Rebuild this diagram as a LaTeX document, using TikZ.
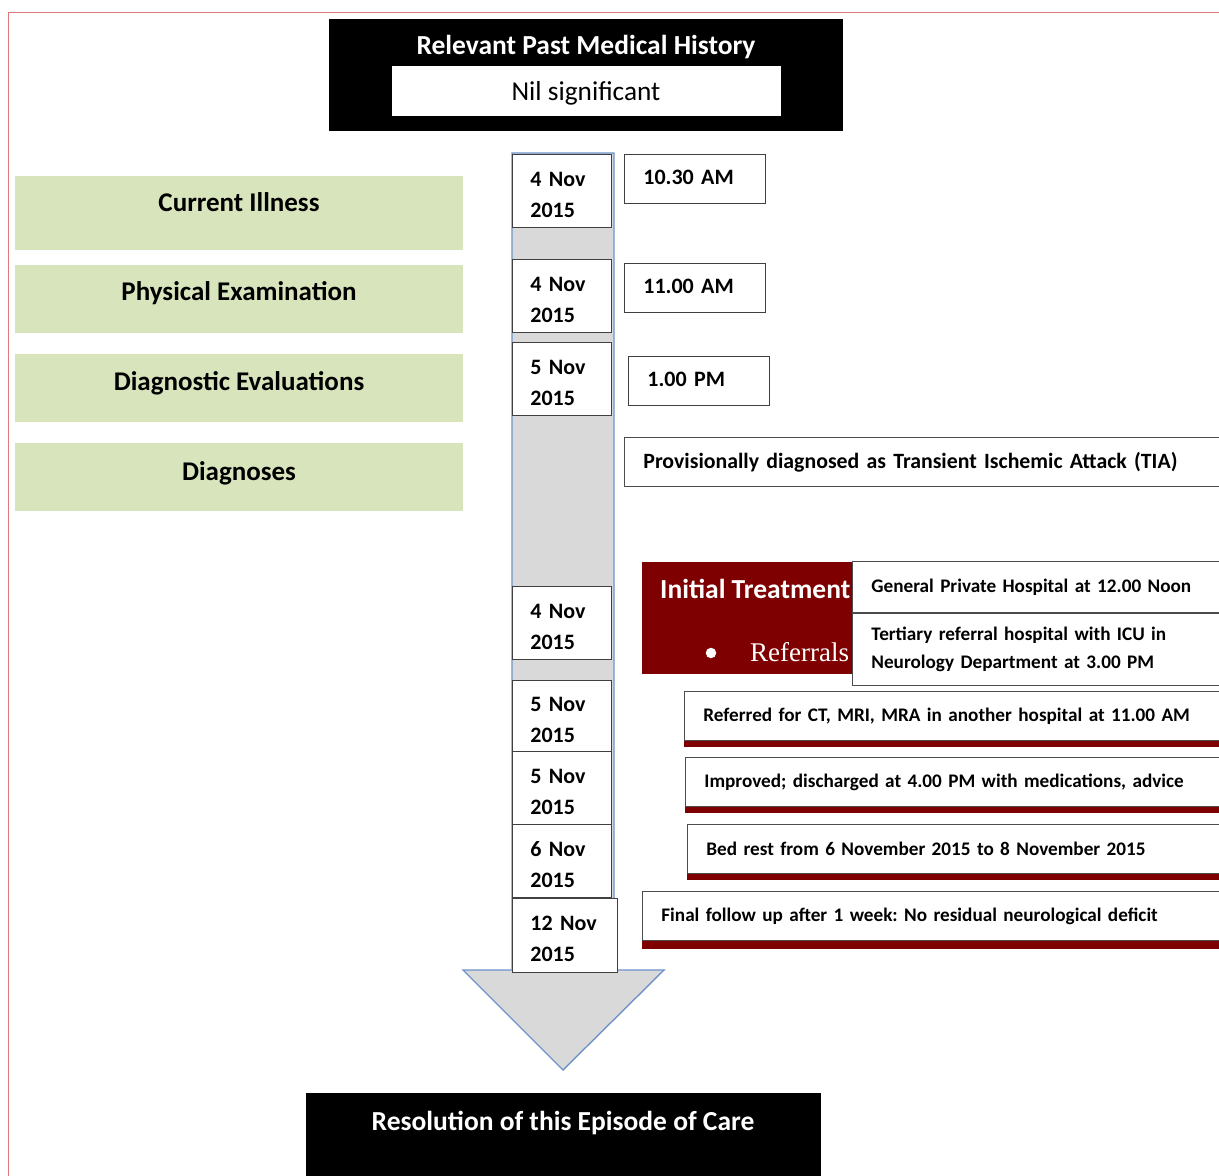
\documentclass[tikz,border=0pt]{standalone}
\usepackage{fontspec}
\setmainfont{Carlito}
\newfontfamily\refserif{Liberation Serif}
\frenchspacing
\definecolor{gfill}{HTML}{D8E4BC}
\definecolor{dred}{HTML}{7F0000}
\definecolor{bblue}{HTML}{6E93CA}
\definecolor{bgrey}{HTML}{D9D9D9}
\definecolor{lred}{HTML}{E07A7A}
\begin{document}
\begin{tikzpicture}[x=1pt,y=-1pt,
  greenbox/.style={fill=gfill, draw=none, anchor=north west, minimum width=448pt, inner sep=0pt},
  greentxt/.style={font=\fontsize{27}{32}\selectfont\bfseries, text=black, inner sep=0pt},
  datebox/.style={draw=black!75, fill=white, line width=0.8pt, anchor=north west,
    minimum width=99pt, minimum height=73pt, text width=63pt, inner xsep=18pt, align=left,
    font=\fontsize{22}{31}\selectfont\bfseries, execute at begin node={\rule{0pt}{22pt}}},
  timebox/.style={draw=black!75, fill=white, line width=0.8pt, anchor=north west,
    minimum width=141pt, minimum height=49pt, text width=103pt, inner xsep=19pt, align=left,
    text depth=4pt, font=\fontsize{22}{26}\selectfont\bfseries},
  wbox/.style={draw=black!70, fill=white, line width=0.8pt, anchor=north west, align=left,
    inner xsep=19pt, font=\fontsize{19.2}{28}\selectfont\bfseries},
  blackbox/.style={fill=black, draw=none, anchor=north west, inner sep=0pt},
  whitetxt/.style={text=white, font=\fontsize{27.5}{32}\selectfont\bfseries, inner sep=0pt},
]
\clip (0,0) rectangle (1219,1176);
\useasboundingbox (0,0) rectangle (1219,1176);
\fill[white] (0,0) rectangle (1219,1176);

% page border
\draw[lred, line width=1pt] (8,1180) -- (8,12) -- (1225,12);

% top header
\node[blackbox, minimum width=514pt, minimum height=112pt] (hist) at (329,19) {};
\node[whitetxt] (histtitle) at (586,47) {Relevant Past Medical History};
\node[fill=white, draw=none, anchor=north west, minimum width=389pt, minimum height=50pt,
  inner sep=0pt] (nil) at (392,66) {};
\node[font=\fontsize{27.3}{30}\selectfont, inner sep=0pt] (niltxt) at (586,93) {Nil significant};

% green category boxes
\node[greenbox, minimum height=74pt] (ci) at (15,176) {};
\node[greentxt] (citxt) at (239,202) {Current Illness};
\node[greenbox, minimum height=68pt] (pe) at (15,265) {};
\node[greentxt] (petxt) at (239,293) {Physical Examination};
\node[greenbox, minimum height=68pt] (de) at (15,354) {};
\node[greentxt] (detxt) at (239,383) {Diagnostic Evaluations};
\node[greenbox, minimum height=68pt] (dg) at (15,443) {};
\node[greentxt] (dgtxt) at (239,473) {Diagnoses};

% timeline arrow
\draw[draw=bblue, fill=bgrey, line width=1.4pt]
  (512,153) -- (614,153) -- (614,970) -- (664,970) -- (563,1070) -- (463,970) -- (512,970) -- cycle;

% date boxes
\node[datebox] (d1) at (512,154) {4 Nov\\2015};
\node[datebox] (d2) at (512,259) {4 Nov\\2015};
\node[datebox] (d3) at (512,342) {5 Nov\\2015};
\node[datebox] (d4) at (512,586) {4 Nov\\2015};
\node[datebox, minimum height=71pt] (d5) at (512,680) {5 Nov\\2015};
\node[datebox] (d6) at (512,751) {5 Nov\\2015};
\node[datebox] (d7) at (512,824) {6 Nov\\2015};
\node[datebox, minimum width=105pt, text width=69pt, minimum height=74pt] (d8) at (512,898) {12 Nov\\2015};

% time boxes
\node[timebox] (t1) at (624,154) {10.30 AM};
\node[timebox] (t2) at (624,263) {11.00 AM};
\node[timebox] (t3) at (628,356) {1.00 PM};

% diagnosis
\node[wbox, minimum width=620pt, text width=582pt, minimum height=49pt,
  font=\fontsize{21.8}{26}\selectfont\bfseries] (tia) at (624,437)
  {Provisionally diagnosed as Transient Ischemic Attack (TIA)};

% initial treatment
\node[fill=dred, draw=none, anchor=north west, minimum width=420pt, minimum height=112pt, inner sep=0pt] (it) at (642,562) {};
\node[whitetxt, anchor=west] (ittxt) at (660,589) {Initial Treatment};
\node[circle, fill=white, draw=none, minimum size=10.5pt, inner sep=0pt] (bul) at (711,653) {};
\node[text=white, font=\fontsize{27}{30}\selectfont\refserif, anchor=west, inner sep=0pt] (ref) at (750,652) {Referrals};
\node[wbox, minimum width=390pt, text width=352pt, minimum height=51pt] (gph) at (852,561)
  {General Private Hospital at 12.00 Noon};
\node[wbox, minimum width=390pt, text width=352pt, minimum height=72pt] (trh) at (852,613)
  {Tertiary referral hospital with ICU in\\Neurology Department at 3.00 PM};

% events with red under-strip
\fill[dred] (684,700) rectangle (1240,747);
\node[wbox, minimum width=560pt, text width=522pt, minimum height=49pt] (ct) at (684,691)
  {Referred for CT, MRI, MRA in another hospital at 11.00 AM};
\fill[dred] (685,766) rectangle (1240,813);
\node[wbox, minimum width=560pt, text width=522pt, minimum height=49pt] (imp) at (685,757)
  {Improved; discharged at 4.00 PM with medications, advice};
\fill[dred] (687,833) rectangle (1240,880);
\node[wbox, minimum width=560pt, text width=522pt, minimum height=49pt] (bed) at (687,824)
  {Bed rest from 6 November 2015 to 8 November 2015};
\fill[dred] (642,900) rectangle (1240,949);
\node[wbox, minimum width=600pt, text width=562pt, minimum height=49pt] (fu) at (642,891)
  {Final follow up after 1 week: No residual neurological deficit};

% resolution
\node[blackbox, minimum width=515pt, minimum height=90pt] (res) at (306,1093) {};
\node[whitetxt] (restxt) at (563,1123) {Resolution of this Episode of Care};
\end{tikzpicture}
\end{document}
